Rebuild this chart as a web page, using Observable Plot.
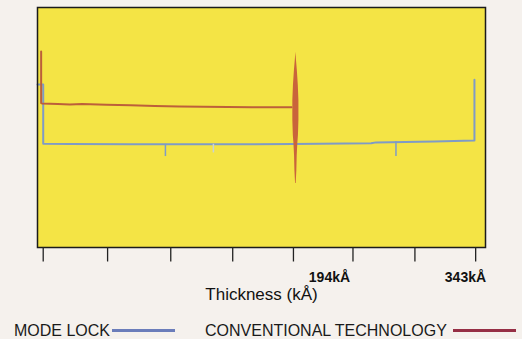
<!DOCTYPE html>
<html><head><meta charset="utf-8">
<script src="https://cdn.jsdelivr.net/npm/d3@7"></script>
<script src="https://cdn.jsdelivr.net/npm/@observablehq/plot@0.6"></script>
<style>
html,body{margin:0;padding:0;background:#f5f1ed;}
#wrap{position:relative;width:522px;height:339px;overflow:hidden;font-family:"Liberation Sans",Arial,sans-serif;}
#wrap svg{position:absolute;left:0;top:0;}
.leg{position:absolute;top:322.5px;font-size:16px;line-height:16px;color:#1a1a1a;white-space:nowrap;}
.sw{position:absolute;top:328.5px;height:3px;}
</style></head><body><div id="wrap"></div>
<script>
// x axis (thickness, kÅ)
const xDomain = [-16.7, 352.1];
const tickValues = [-12, 41, 93, 144, 194, 243, 294, 344];
const tickLabels = ["194kÅ", "343kÅ"];
const tickLabelAt = [194, 343];
const axisTitle = "Thickness (kÅ)";

// series names
const seriesNames = ["MODE LOCK", "CONVENTIONAL TECHNOLOGY"];

// MODE LOCK trace (relative signal, 0-100)
const blueX = [-16.7, -12, -12, 10, 60, 120, 194, 258, 262, 310, 343, 343];
const blueY = [67.9, 67.9, 43.2, 43.1, 43.0, 43.0, 43.1, 43.4, 43.8, 44.2, 44.6, 69.9];
const blueDipX = [88.6, 128.1, 278.4];
const blueDipTop = [43.0, 43.0, 44.2];
const blueDipBottom = [37.9, 39.4, 37.9];
const blueDipAlpha = [1, 0.45, 1];

// CONVENTIONAL TECHNOLOGY trace
const redX = [-13.7, -13.7, -13, 0, 10, 20, 40, 60, 80, 100, 120, 140, 160, 180, 192.5];
const redY = [81.7, 60.2, 60.0, 59.8, 59.6, 59.8, 59.5, 59.3, 59.0, 58.8, 58.6, 58.5, 58.4, 58.4, 58.4];
const spikeCenter = 196;
const spikeY = [81.4, 77.9, 73.8, 67.5, 61.3, 52.9, 46.7, 43.3, 38.3, 32.1, 26.7];
const spikeHalfWidth = [0, 0.5, 1.2, 2.0, 2.5, 2.5, 2.1, 1.6, 1.1, 0.8, 0.25];

const blue = blueX.map((x, i) => ({x, y: blueY[i]}));
const dips = blueDipX.map((x, i) => ({x, y1: blueDipTop[i], y2: blueDipBottom[i], a: blueDipAlpha[i]}));
const red = redX.map((x, i) => ({x, y: redY[i]}));
const spike = spikeY.map((y, i) => ({y, x1: spikeCenter - spikeHalfWidth[i], x2: spikeCenter + spikeHalfWidth[i]}));
const labels = tickLabels.map((t, i) => ({t, x: tickLabelAt[i]}));

const chart = Plot.plot({
  width: 522, height: 339,
  marginLeft: 37, marginRight: 37, marginTop: 7, marginBottom: 92,
  style: {background: "transparent", fontFamily: "'Liberation Sans', Arial, sans-serif"},
  x: {domain: xDomain, axis: null},
  y: {domain: [0, 100], axis: null},
  marks: [
    Plot.frame({fill: "#f4e445"}),
    Plot.line(blue, {x: "x", y: "y", stroke: "#7f9bc6", strokeWidth: 2}),
    Plot.ruleX(dips.filter(d => d.a === 1), {x: "x", y1: "y1", y2: "y2", stroke: "#7f9bc6", strokeWidth: 1.5}),
    Plot.ruleX(dips.filter(d => d.a !== 1), {x: "x", y1: "y1", y2: "y2", stroke: "#c9d2d8", strokeWidth: 1.5}),
    Plot.line(red, {x: "x", y: "y", stroke: "#bc5f3a", strokeWidth: 2}),
    Plot.areaX(spike, {y: "y", x1: "x1", x2: "x2", fill: "#c9643b"}),
    Plot.frame({stroke: "#1b1b1b", strokeWidth: 1.5}),
    Plot.axisX({ticks: tickValues, tickSize: 14.5, tickFormat: () => "", label: null, stroke: "#222", strokeWidth: 1.3}),
    Plot.text(labels.slice(0, 1), {x: "x", text: "t", frameAnchor: "bottom", dy: 34.5, dx: 36, fontSize: 14, fontWeight: "bold", fill: "#111"}),
    Plot.text(labels.slice(1), {x: "x", text: "t", frameAnchor: "bottom", dy: 34.5, dx: -9, fontSize: 14, fontWeight: "bold", fill: "#111"}),
    Plot.text([axisTitle], {text: d => d, frameAnchor: "bottom", dy: 52.6, fontSize: 17, fill: "#111"})
  ]
});
const wrap = document.getElementById("wrap");
wrap.appendChild(chart);

function legendItem(name, textLeft, swLeft, swWidth, color, size) {
  const t = document.createElement("div");
  t.className = "leg"; t.textContent = name;
  t.style.left = textLeft + "px"; t.style.fontSize = size + "px";
  wrap.appendChild(t);
  const s = document.createElement("div");
  s.className = "sw"; s.style.left = swLeft + "px"; s.style.width = swWidth + "px"; s.style.background = color;
  wrap.appendChild(s);
}
legendItem(seriesNames[0], 14, 112, 63, "#6b7dba", 16);
legendItem(seriesNames[1], 205, 453, 63, "#962f45", 16);
</script>
</body></html>
